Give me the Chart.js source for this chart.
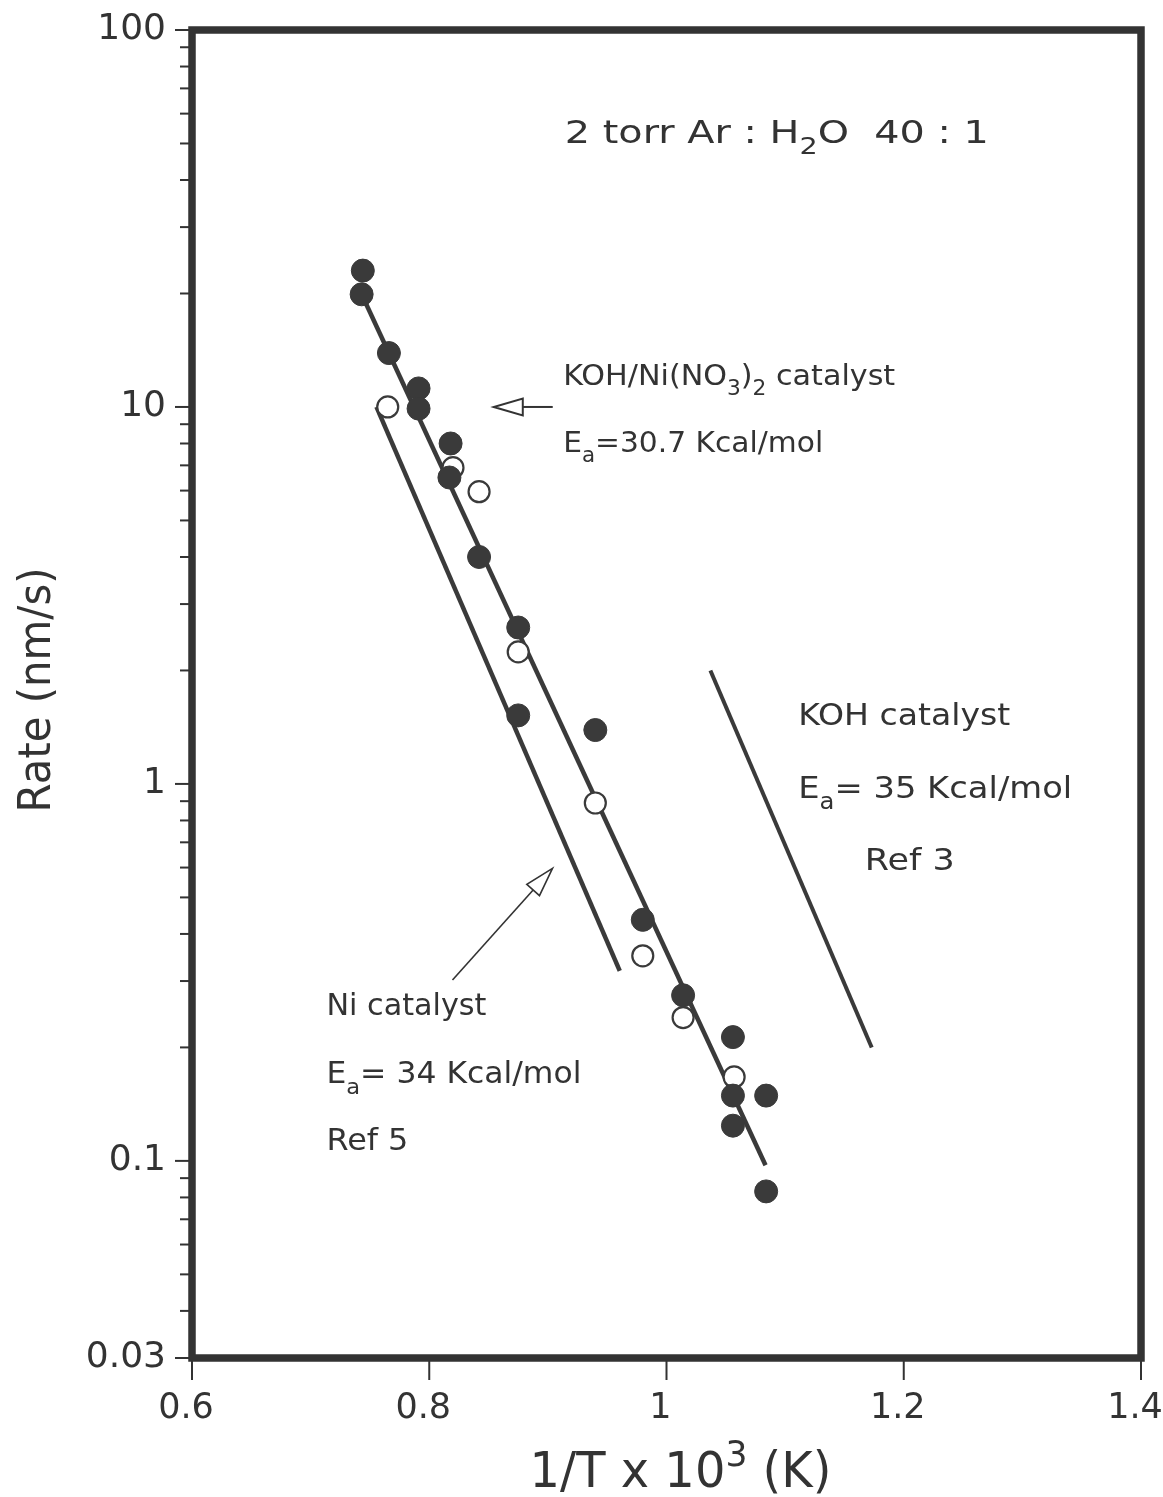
<!DOCTYPE html>
<html><head><meta charset="utf-8">
<script src="https://cdn.jsdelivr.net/npm/chart.js@4.4.0/dist/chart.umd.min.js"></script>
<style>html,body{margin:0;padding:0;background:#fff}canvas{display:block}</style>
</head><body>
<canvas id="c" width="1163" height="1497"></canvas>
<script>
// ---- data ----
const filledX = [0.744, 0.743, 0.766, 0.791, 0.791, 0.818, 0.817, 0.842, 0.875, 0.875, 0.940, 0.980, 1.014, 1.056, 1.056, 1.084, 1.056, 1.084];
const filledY = [23.0, 19.9, 13.9, 11.2, 9.9, 8.0, 6.5, 4.0, 2.6, 1.52, 1.39, 0.436, 0.275, 0.213, 0.149, 0.149, 0.124, 0.083];
const openX = [0.765, 0.820, 0.842, 0.875, 0.940, 0.980, 1.014, 1.057];
const openY = [10.0, 6.9, 5.96, 2.24, 0.89, 0.35, 0.24, 0.167];
const fitX = [0.743, 1.0835];
const fitY = [19.9, 0.0974];
const niX = [0.7555, 0.9606];
const niY = [10.0, 0.319];
const kohX = [1.037, 1.173];
const kohY = [2.0, 0.2];
const xTicks = [0.6, 0.8, 1.0, 1.2, 1.4];
const xTickLabels = ['0.6', '0.8', '1', '1.2', '1.4'];
const yMajorTicks = [0.03, 0.1, 1, 10, 100];
const yMajorLabels = ['0.03', '0.1', '1', '10', '100'];
const yMinorTicks = [0.04, 0.05, 0.06, 0.07, 0.08, 0.09, 0.2, 0.3, 0.4, 0.5, 0.6, 0.7, 0.8, 0.9, 2, 3, 4, 5, 6, 7, 8, 9, 20, 30, 40, 50, 60, 70, 80, 90];
const xTitle = [['1/T x 10'], ['3', 'sup'], [' (K)']];
const yTitle = 'Rate (nm/s)';

// annotation texts (anchored in data coordinates)
const noteX = [0.9143, 0.9129, 0.9129, 1.111, 1.111, 1.1672, 0.7133, 0.7133, 0.7133];
const noteY = [50.1, 11.45, 7.61, 1.434, 0.916, 0.591, 0.2436, 0.1605, 0.1067];
const noteText = [
  [['2 torr Ar : H'], ['2', 'sub'], ['O  40 : 1']],
  [['KOH/Ni(NO'], ['3', 'sub'], [')'], ['2', 'sub'], [' catalyst']],
  [['E'], ['a', 'sub'], ['=30.7 Kcal/mol']],
  [['KOH catalyst']],
  [['E'], ['a', 'sub'], ['= 35 Kcal/mol']],
  [['Ref 3']],
  [['Ni catalyst']],
  [['E'], ['a', 'sub'], ['= 34 Kcal/mol']],
  [['Ref 5']]
];
// arrows: [x, y] of tail and tip
const arrowTail = [[0.9041, 10.0], [0.8196, 0.302]];
const arrowTip = [[0.8544, 10.0], [0.9039, 0.597]];

// ---- styles ----
const INK = '#333333';
const FONT = '"DejaVu Sans", "Liberation Sans", sans-serif';
const noteSize = [32, 29, 29, 31, 31, 31, 30, 30, 30];
const noteW = [424, 332, 260, 212, 274, 90, 160, 255, 82];
const arrowLW = [2, 1.6];

function drawRich(ctx, x, y, parts, size, targetW, align) {
  let w = 0;
  const items = parts.map(p => {
    const sub = p[1] === 'sub', sup = p[1] === 'sup';
    const s = (sub || sup) ? size * 0.72 : size;
    ctx.font = s + 'px ' + FONT;
    const mw = ctx.measureText(p[0]).width;
    w += mw;
    return { t: p[0], s, mw, dy: sub ? size * 0.34 : (sup ? -size * 0.42 : 0) };
  });
  const sx = targetW ? targetW / w : 1;
  const tw = w * sx;
  ctx.save();
  ctx.translate(align === 'center' ? x - tw / 2 : x, y);
  ctx.scale(sx, 1);
  ctx.textBaseline = 'alphabetic';
  ctx.textAlign = 'left';
  let cx = 0;
  items.forEach(it => { ctx.font = it.s + 'px ' + FONT; ctx.fillText(it.t, cx, it.dy); cx += it.mw; });
  ctx.restore();
}

const decor = {
  id: 'decor',
  beforeDraw(chart) {
    const c = chart.ctx;
    c.save(); c.fillStyle = '#fff'; c.fillRect(0, 0, chart.width, chart.height); c.restore();
  },
  afterDraw(chart) {
    const c = chart.ctx, a = chart.chartArea;
    const xs = chart.scales.x, ys = chart.scales.y;
    c.save();
    c.strokeStyle = INK; c.fillStyle = INK;
    // tick marks
    c.lineWidth = 2;
    yMajorTicks.forEach(v => { const p = ys.getPixelForValue(v); c.beginPath(); c.moveTo(a.left - 17, p); c.lineTo(a.left, p); c.stroke(); });
    yMinorTicks.forEach(v => { const p = ys.getPixelForValue(v); c.beginPath(); c.moveTo(a.left - 12, p); c.lineTo(a.left, p); c.stroke(); });
    xTicks.forEach(v => { const p = xs.getPixelForValue(v); c.beginPath(); c.moveTo(p, a.bottom); c.lineTo(p, a.bottom + 22); c.stroke(); });
    // frame
    c.lineWidth = 7.5;
    c.lineJoin = 'miter';
    c.strokeRect(a.left, a.top, a.right - a.left, a.bottom - a.top);
    // arrows
    arrowTail.forEach((t, i) => {
      const x0 = xs.getPixelForValue(t[0]), y0 = ys.getPixelForValue(t[1]);
      const x1 = xs.getPixelForValue(arrowTip[i][0]), y1 = ys.getPixelForValue(arrowTip[i][1]);
      const ang = Math.atan2(y1 - y0, x1 - x0);
      const L = 29, H = 8.5;
      const bx = x1 - L * Math.cos(ang), by = y1 - L * Math.sin(ang);
      c.lineWidth = arrowLW[i];
      c.beginPath(); c.moveTo(x0, y0); c.lineTo(bx, by); c.stroke();
      c.beginPath();
      c.moveTo(x1, y1);
      c.lineTo(bx + H * Math.sin(ang), by - H * Math.cos(ang));
      c.lineTo(bx - H * Math.sin(ang), by + H * Math.cos(ang));
      c.closePath();
      c.fillStyle = '#fff'; c.fill();
      c.stroke();
    });
    c.fillStyle = INK;
    // annotations
    noteText.forEach((parts, i) => {
      drawRich(c, xs.getPixelForValue(noteX[i]), ys.getPixelForValue(noteY[i]), parts, noteSize[i], noteW[i], 'left');
    });
    // axis titles
    drawRich(c, (a.left + a.right) / 2 + 14, 1487, xTitle, 49, 302, 'center');
    c.save();
    c.translate(50, 690);
    c.rotate(-Math.PI / 2);
    drawRich(c, 0, 0, [[yTitle]], 44, 245, 'center');
    c.restore();
    c.restore();
  }
};

const pts = (xa, ya) => xa.map((x, i) => ({ x, y: ya[i] }));

new Chart(document.getElementById('c'), {
  type: 'scatter',
  data: {
    datasets: [
      { label: 'KOH/Ni(NO3)2 (filled)', data: pts(filledX, filledY), pointStyle: 'circle', pointRadius: 11.5, pointHoverRadius: 11.5, backgroundColor: '#3a3a3a', borderColor: '#3a3a3a', borderWidth: 1, order: 1 },
      { label: 'KOH/Ni(NO3)2 (open)', data: pts(openX, openY), pointStyle: 'circle', pointRadius: 10.5, pointHoverRadius: 10.5, backgroundColor: '#ffffff', borderColor: '#3a3a3a', borderWidth: 2.2, order: 2 },
      { label: 'fit Ea=30.7', type: 'line', data: pts(fitX, fitY), borderColor: '#3a3a3a', borderWidth: 4.5, pointRadius: 0, showLine: true, fill: false, order: 3 },
      { label: 'Ni catalyst', type: 'line', data: pts(niX, niY), borderColor: '#3a3a3a', borderWidth: 4.5, pointRadius: 0, showLine: true, fill: false, order: 3 },
      { label: 'KOH catalyst', type: 'line', data: pts(kohX, kohY), borderColor: '#3a3a3a', borderWidth: 4, pointRadius: 0, showLine: true, fill: false, order: 3 }
    ]
  },
  options: {
    responsive: false,
    animation: false,
    events: [],
    layout: { padding: { top: 30, right: 22, bottom: 0, left: 0 } },
    plugins: { legend: { display: false }, tooltip: { enabled: false } },
    scales: {
      x: {
        type: 'linear', min: 0.6, max: 1.4, bounds: 'data',
        afterBuildTicks: s => { s.ticks = xTicks.map(v => ({ value: v })); },
        afterFit: s => { s.height = 139; s.paddingLeft = 0; s.paddingRight = 0; },
        grid: { drawOnChartArea: false, drawTicks: false, color: 'rgba(0,0,0,0)' },
        border: { display: false },
        ticks: { autoSkip: false, maxRotation: 0, padding: 30, labelOffset: -6, color: INK, font: { family: FONT, size: 35 },
          callback: (v, i) => xTickLabels[i] }
      },
      y: {
        type: 'logarithmic', min: 0.03, max: 100, bounds: 'data',
        afterBuildTicks: s => { s.ticks = yMajorTicks.map(v => ({ value: v })); },
        afterFit: s => { s.width = 192; s.paddingTop = 0; s.paddingBottom = 0; },
        grid: { drawOnChartArea: false, drawTicks: false, color: 'rgba(0,0,0,0)' },
        border: { display: false },
        ticks: { autoSkip: false, padding: 26, color: INK, font: { family: FONT, size: 36 },
          callback: (v, i) => yMajorLabels[i] }
      }
    }
  },
  plugins: [decor]
});
</script>
</body></html>
